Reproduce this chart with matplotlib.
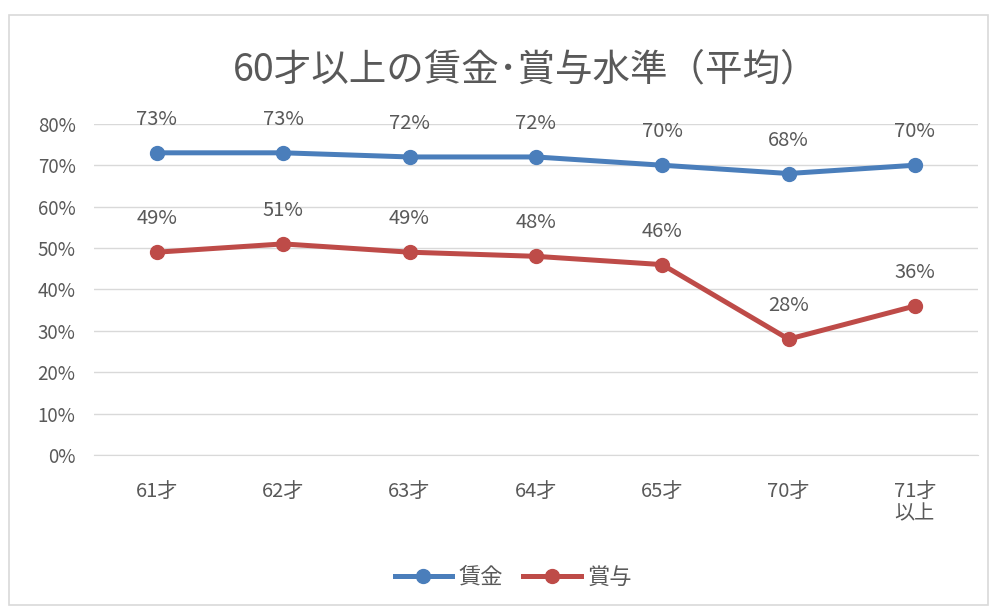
import matplotlib.pyplot as plt
from matplotlib.patches import Rectangle

plt.rcParams['font.family'] = ['Noto Sans CJK JP', 'DejaVu Sans']

categories = ['61才', '62才', '63才', '64才', '65才', '70才', '71才\n以上']
wage = [0.73, 0.73, 0.72, 0.72, 0.70, 0.68, 0.70]
bonus = [0.49, 0.51, 0.49, 0.48, 0.46, 0.28, 0.36]
yticks = [0, 0.1, 0.2, 0.3, 0.4, 0.5, 0.6, 0.7, 0.8]

txt = '#595959'
fig = plt.figure(figsize=(9.97, 6.1), dpi=100)
fig.patches.append(Rectangle((0.009, 0.008), 0.982, 0.968, transform=fig.transFigure,
                             fc='white', ec='#d9d9d9', lw=1.2, zorder=-1))
ax = fig.add_axes([0.094, 0.254, 0.887, 0.543])
ax.set_facecolor('none')

x = range(len(categories))
ax.plot(x, wage, color='#4a7ebb', lw=3.6, marker='o', ms=10, label='賃金', zorder=3)
ax.plot(x, bonus, color='#be4b48', lw=3.6, marker='o', ms=10, label='賞与', zorder=3)
for ys in (wage, bonus):
    for xi, yi in zip(x, ys):
        ax.annotate(f'{round(yi*100)}%', (xi, yi), xytext=(0, 24), textcoords='offset points',
                    ha='center', va='center', fontsize=14.5, color=txt)

ax.set_xlim(-0.5, len(categories) - 0.5)
ax.set_ylim(0, 0.8)
ax.set_yticks(yticks)
ax.set_yticklabels([f'{round(t*100)}%' for t in yticks])
ax.set_xticks(list(x))
ax.set_xticklabels(categories, linespacing=1.05)
ax.tick_params(axis='both', length=0, labelcolor=txt)
ax.tick_params(axis='y', pad=13, labelsize=13.5)
ax.tick_params(axis='x', pad=19, labelsize=14.5)
ax.grid(axis='y', color='#d9d9d9', lw=1)
ax.set_axisbelow(True)
for s in ['top', 'right', 'left']:
    ax.spines[s].set_visible(False)
ax.spines['bottom'].set_color('#d9d9d9')

fig.text(0.527, 0.885, '60才以上の賃金･賞与水準（平均）', ha='center', va='center',
         fontsize=27, color=txt)
fig.legend(loc='center', bbox_to_anchor=(0.515, 0.054), ncol=2, frameon=False,
           fontsize=16, labelcolor=txt, handlelength=2.6, columnspacing=0.9, handletextpad=0.3)

fig.savefig('out.png', dpi=100)
